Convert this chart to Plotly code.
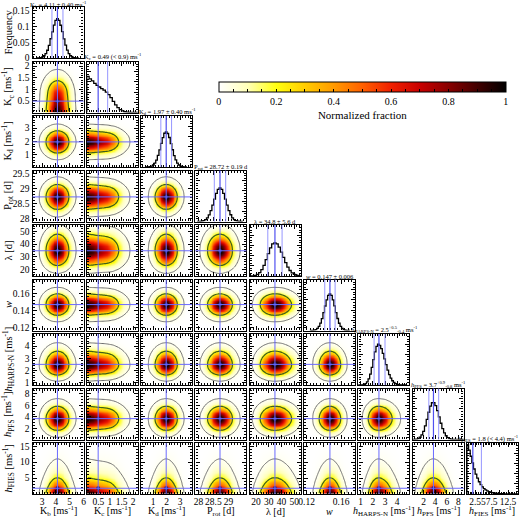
import numpy as np
import plotly.graph_objects as go

# ---------------- data ----------------
params = ["Kb", "Kc", "Kd", "Prot", "lam", "w", "hH", "hP", "hF"]
axis_labels = ["K<sub>b</sub> [ms<sup>-1</sup>]", "K<sub>c</sub> [ms<sup>-1</sup>]",
               "K<sub>d</sub> [ms<sup>-1</sup>]", "P<sub>rot</sub> [d]", "λ [d]", "<i>w</i>",
               "<i>h</i><sub>HARPS-N</sub> [ms<sup>-1</sup>]", "<i>h</i><sub>PFS</sub> [ms<sup>-1</sup>]",
               "<i>h</i><sub>FIES</sub> [ms<sup>-1</sup>]"]
diag_titles = ["K<sub>b</sub> = 4.11 ± 0.40 ms<sup>-1</sup>",
               "K<sub>c</sub> = 0.49 (< 0.9) ms<sup>-1</sup>",
               "K<sub>d</sub> = 1.97 ± 0.40 ms<sup>-1</sup>",
               "P<sub>rot</sub> = 28.72 ± 0.19 d",
               "λ = 34.8 ± 5.6 d",
               "<i>w</i> = 0.147 ± 0.006",
               "<i>h</i><sub>HARPS-N</sub> = 2.5<sup>+0.5</sup><sub>-0.4</sub> ms<sup>-1</sup>",
               "<i>h</i><sub>PFS</sub> = 3.7<sup>+0.9</sup><sub>-0.8</sub> ms<sup>-1</sup>",
               "<i>h</i><sub>FIES</sub> = 1.8 (< 4.4) ms<sup>-1</sup>"]

medians = [4.11, 0.49, 1.97, 28.72, 34.8, 0.147, 2.5, 3.7, 1.8]
hist_lines = [[3.71, 4.51], [0.9], [1.57, 2.37], [28.53, 28.91], [29.2, 40.4],
              [0.141, 0.153], [2.1, 3.0], [2.9, 4.6], [4.4]]

kb_x = [2.67, 2.79, 2.91, 3.03, 3.15, 3.27, 3.39, 3.51, 3.63, 3.75, 3.87, 3.99, 4.11,
        4.23, 4.35, 4.47, 4.59, 4.71, 4.83, 4.95, 5.07, 5.19, 5.31, 5.43, 5.55]
kb_h = [0.0002, 0.0005, 0.0014, 0.0033, 0.0071, 0.0138, 0.0246, 0.0404, 0.0612, 0.0829,
        0.1046, 0.1192, 0.1248, 0.1197, 0.1040, 0.0836, 0.0607, 0.0408, 0.0249, 0.0136,
        0.0072, 0.0031, 0.0014, 0.0006, 0.0002]

kc_x = [0.05, 0.15, 0.25, 0.35, 0.45, 0.55, 0.65, 0.75, 0.85, 0.95, 1.05, 1.15, 1.25,
        1.35, 1.45, 1.55, 1.65, 1.75, 1.85, 1.95, 2.05, 2.15]
kc_h = [0.71, 0.66, 0.62, 0.57, 0.53, 0.50, 0.47, 0.44, 0.40, 0.35, 0.29, 0.22, 0.15,
        0.095, 0.055, 0.030, 0.015, 0.007, 0.003, 0.0015, 0.0007, 0.0003]

kd_x = [0.53, 0.65, 0.77, 0.89, 1.01, 1.13, 1.25, 1.37, 1.49, 1.61, 1.73, 1.85, 1.97,
        2.09, 2.21, 2.33, 2.45, 2.57, 2.69, 2.81, 2.93, 3.05, 3.17, 3.29, 3.41]
kd_h = [0.001, 0.003, 0.008, 0.018, 0.039, 0.077, 0.136, 0.226, 0.334, 0.462, 0.577,
        0.662, 0.690, 0.657, 0.578, 0.458, 0.338, 0.222, 0.138, 0.075, 0.039, 0.018,
        0.007, 0.003, 0.001]

prot_x = [28.00, 28.06, 28.12, 28.18, 28.24, 28.30, 28.36, 28.42, 28.48, 28.54, 28.60,
          28.66, 28.72, 28.78, 28.84, 28.90, 28.96, 29.02, 29.08, 29.14, 29.20, 29.26,
          29.32, 29.38, 29.44]
prot_h = [0.001, 0.003, 0.007, 0.017, 0.037, 0.073, 0.131, 0.214, 0.322, 0.440, 0.551,
          0.631, 0.660, 0.628, 0.553, 0.437, 0.323, 0.213, 0.132, 0.072, 0.037, 0.017,
          0.007, 0.003, 0.001]

lam_x = [14.4, 16.1, 17.8, 19.5, 21.2, 22.9, 24.6, 26.3, 28.0, 29.7, 31.4, 33.1, 34.8,
         36.5, 38.2, 39.9, 41.6, 43.3, 45.0, 46.7, 48.4, 50.1, 51.8, 53.5, 55.2]
lam_h = [0.000, 0.001, 0.004, 0.012, 0.030, 0.066, 0.124, 0.210, 0.320, 0.440, 0.553,
         0.630, 0.650, 0.630, 0.565, 0.470, 0.365, 0.262, 0.175, 0.108, 0.062, 0.033,
         0.016, 0.007, 0.003]

w_x = [0.1254, 0.1272, 0.1290, 0.1308, 0.1326, 0.1344, 0.1362, 0.1380, 0.1398, 0.1416,
       0.1434, 0.1452, 0.1470, 0.1488, 0.1506, 0.1524, 0.1542, 0.1560, 0.1578, 0.1596,
       0.1614, 0.1632, 0.1650, 0.1668, 0.1686]
w_h = [0.001, 0.003, 0.008, 0.019, 0.040, 0.079, 0.143, 0.234, 0.351, 0.480, 0.601,
       0.688, 0.720, 0.690, 0.600, 0.482, 0.350, 0.235, 0.142, 0.079, 0.040, 0.019,
       0.008, 0.003, 0.001]

hh_x = [0.89, 1.02, 1.15, 1.28, 1.41, 1.54, 1.67, 1.80, 1.93, 2.06, 2.19, 2.32, 2.45,
        2.58, 2.71, 2.84, 2.97, 3.10, 3.23, 3.36, 3.49, 3.62, 3.75, 3.88, 4.01, 4.14,
        4.27, 4.40, 4.53, 4.66]
hh_h = [0.0004, 0.0013, 0.004, 0.011, 0.027, 0.060, 0.119, 0.214, 0.344, 0.497, 0.648,
        0.759, 0.800, 0.778, 0.715, 0.622, 0.512, 0.399, 0.293, 0.203, 0.134, 0.083,
        0.049, 0.027, 0.014, 0.007, 0.0034, 0.0015, 0.0006, 0.0003]

hp_x = [0.2, 0.5, 0.8, 1.1, 1.4, 1.7, 2.0, 2.3, 2.6, 2.9, 3.2, 3.5, 3.8, 4.1, 4.4, 4.7,
        5.0, 5.3, 5.6, 5.9, 6.2, 6.5, 6.8, 7.1, 7.4, 7.7, 8.0, 8.3, 8.6, 8.9]
hp_h = [0.001, 0.003, 0.008, 0.020, 0.044, 0.089, 0.161, 0.266, 0.396, 0.534, 0.653,
        0.721, 0.722, 0.666, 0.566, 0.443, 0.319, 0.212, 0.130, 0.074, 0.038, 0.018,
        0.008, 0.0033, 0.0012, 0.0005, 0.0002, 0.0001, 0.0, 0.0]

hf_x = [0.25, 0.75, 1.25, 1.75, 2.25, 2.75, 3.25, 3.75, 4.25, 4.75, 5.25, 5.75, 6.25,
        6.75, 7.25, 7.75, 8.25, 8.75, 9.25, 9.75, 10.25, 10.75, 11.25, 11.75, 12.25,
        12.75, 13.25, 13.75, 14.25, 14.75, 15.25]
hf_h = [0.97, 0.86, 0.74, 0.61, 0.49, 0.39, 0.31, 0.24, 0.185, 0.14, 0.105, 0.08, 0.06,
        0.045, 0.034, 0.026, 0.020, 0.015, 0.011, 0.008, 0.006, 0.0045, 0.0033, 0.0024,
        0.0017, 0.0012, 0.0008, 0.0005, 0.0003, 0.0002, 0.0001]

centers = [kb_x, kc_x, kd_x, prot_x, lam_x, w_x, hh_x, hp_x, hf_x]
heights = [kb_h, kc_h, kd_h, prot_h, lam_h, w_h, hh_h, hp_h, hf_h]

# contour levels (fraction of the normalized 2-D density)
contour_levels = [0.004, 0.12]

# axis ranges and ticks
x_ranges = [[2.3, 6.0], [0, 2.2], [0.1, 3.9], [27.9, 29.6], [15, 55], [0.117, 0.176],
            [0.8, 5.0], [0.1, 8.9], [0, 15.5]]
y_ranges = [[2.3, 6.0], [0, 2.2], [0.1, 3.9], [27.9, 29.6], [15, 55], [0.117, 0.176],
            [0.8, 5.0], [0.1, 8.9], [0, 16]]
x_tickvals = [[3, 4, 5, 6], [0.5, 1, 1.5, 2], [1, 2, 3], [28, 28.5, 29], [20, 30, 40, 50],
              [0.12, 0.14, 0.16], [1, 2, 3, 4], [2, 4, 6, 8], [2.5, 5, 7.5, 10, 12.5]]
x_ticktext = [["3", "4", "5", "6"], ["0.5", "1", "1.5", "2"], ["1", "2", "3"],
              ["28", "28.5", "29"], ["20", "30", "40", "50"], ["0.12", "", "0.16"],
              ["1", "2", "3", "4"], ["2", "4", "6", "8"], ["2.5", "5", "7.5", "", "12.5"]]
y_tickvals = [[3, 4, 5, 6], [0.5, 1, 1.5, 2], [1, 2, 3], [28, 28.5, 29, 29.5],
              [20, 30, 40, 50], [0.12, 0.14, 0.16], [1, 2, 3, 4], [2, 4, 6, 8], [5, 10, 15]]
minor_dt = [0.2, 0.1, 0.2, 0.1, 2, 0.004, 0.2, 0.5, 0.5]
minor_dt_y = [0.2, 0.1, 0.2, 0.1, 2, 0.004, 0.2, 0.5, 1]
freq_ticks = [0, 0.05, 0.1, 0.15]
freq_range = [0, 0.162]
diag_range = [0, 1.0]

# ---------------- layout geometry ----------------
W, H = 520, 519
col_left0, col_pitch = 32.5, 54.3
row_top0, row_pitch = 7.0, 54.5
psize = 51.0

FONT = "Liberation Serif"
BLUE = "#6a6aff"
GREEN = "#3f5f1a"
GRAY = "#6e6e6e"

colorscale = [[0.0, "#ffffff"], [0.1, "#ffffb8"], [0.2, "#ffff10"], [0.3, "#ffcc00"],
              [0.4, "#ff9a00"], [0.5, "#ff6000"], [0.6, "#f02000"], [0.7, "#c80000"],
              [0.8, "#880000"], [0.9, "#420000"], [1.0, "#000000"]]
COLOR_POWER = 0.7

fig = go.Figure()
layout = {}
shapes = []
annotations = []
n = 0

for i in range(9):
    for j in range(i + 1):
        n += 1
        xa = "xaxis" if n == 1 else f"xaxis{n}"
        ya = "yaxis" if n == 1 else f"yaxis{n}"
        xr = "x" if n == 1 else f"x{n}"
        yr = "y" if n == 1 else f"y{n}"
        L = col_left0 + col_pitch * j
        T = row_top0 + row_pitch * i
        xdom = [L / W, (L + psize) / W]
        ydom = [1 - (T + psize) / H, 1 - T / H]

        common = dict(showline=True, linecolor="black", linewidth=1.4, mirror="allticks",
                      ticks="inside", ticklen=4, tickwidth=1, tickcolor="black",
                      showgrid=False, zeroline=False, tickangle=0, automargin=False,
                      tickfont=dict(family=FONT, size=9.5, color="black"))

        xdict = dict(common, domain=xdom, anchor=yr, range=x_ranges[j],
                     tickmode="array", tickvals=x_tickvals[j], ticktext=x_ticktext[j],
                     minor=dict(ticks="inside", ticklen=2, dtick=minor_dt[j],
                                tick0=0, tickcolor="black"),
                     showticklabels=(i == 8))
        if i == 8:
            xdict["ticklabelstandoff"] = -2
            annotations.append(dict(text=axis_labels[j], xref="paper", yref="paper",
                                    x=(L + psize / 2) / W, y=1 - 511 / H,
                                    xanchor="center", yanchor="middle", showarrow=False,
                                    font=dict(family=FONT, size=10, color="black")))
        if j == 0:
            ytitle = "Frequency" if i == 0 else axis_labels[i]
            annotations.append(dict(text=ytitle, xref="paper", yref="paper",
                                    x=8 / W, y=1 - (T + psize / 2) / H, textangle=-90,
                                    xanchor="center", yanchor="middle", showarrow=False,
                                    font=dict(family=FONT, size=10.5, color="black")))
        if i == j:
            if i == 0:
                ydict = dict(common, domain=ydom, anchor=xr, range=freq_range,
                             tickmode="array", tickvals=freq_ticks,
                             minor=dict(ticks="inside", ticklen=2, dtick=0.01, tick0=0,
                                        tickcolor="black"))
            else:
                ydict = dict(common, domain=ydom, anchor=xr, range=diag_range,
                             dtick=0.2, showticklabels=False,
                             minor=dict(ticks="inside", ticklen=2, dtick=0.05, tick0=0,
                                        tickcolor="black"))
            cx = np.array(centers[i], dtype=float)
            hv = np.array(heights[i], dtype=float)
            step = cx[1] - cx[0]
            edges = np.concatenate([cx - step / 2, [cx[-1] + step / 2]])
            xs = np.concatenate([[edges[0]], edges[:-1], [edges[-1]]])
            ys = np.concatenate([[0], hv, [0]])
            fig.add_trace(go.Scatter(x=xs, y=ys, mode="lines", line_shape="hv",
                                     line=dict(color="black", width=1.3),
                                     xaxis=xr, yaxis=yr, showlegend=False,
                                     hoverinfo="skip"))
            shapes.append(dict(type="line", xref=xr, yref=f"{yr} domain",
                               x0=medians[i], x1=medians[i], y0=0, y1=1,
                               line=dict(color="#5050f0", width=1.2), layer="above"))
            for v in hist_lines[i]:
                shapes.append(dict(type="line", xref=xr, yref=f"{yr} domain",
                                   x0=v, x1=v, y0=0, y1=1,
                                   line=dict(color="#8a8aff", width=0.9), layer="above"))
            if i == 8:
                tx, xanc = (W - 1) / W, "right"
            else:
                tx, xanc = (L + psize / 2) / W, "center"
            ty = T + (2.5 if i == 0 else 1.0)
            annotations.append(dict(text=diag_titles[i], xref="paper", yref="paper",
                                    x=tx, y=1 - ty / H,
                                    xanchor=xanc, yanchor="bottom", showarrow=False,
                                    borderpad=0,
                                    font=dict(family=FONT, size=6.5, color="black")))
        else:
            ydict = dict(common, domain=ydom, anchor=xr, range=y_ranges[i],
                         tickmode="array", tickvals=y_tickvals[i],
                         minor=dict(ticks="inside", ticklen=2, dtick=minor_dt_y[i],
                                    tick0=0, tickcolor="black"),
                         showticklabels=(j == 0))
            fx = np.array(heights[j], dtype=float)
            fy = np.array(heights[i], dtype=float)
            Z = np.outer(fy, fx)
            Z = Z / Z.max()
            fig.add_trace(go.Heatmap(x=centers[j], y=centers[i], z=Z ** COLOR_POWER,
                                     coloraxis="coloraxis", zsmooth="best",
                                     xaxis=xr, yaxis=yr, hoverinfo="skip"))
            for lev, col, lw in [(contour_levels[0], GRAY, 1.0), (contour_levels[1], GREEN, 1.2)]:
                fig.add_trace(go.Contour(x=centers[j], y=centers[i], z=Z,
                                         autocontour=False,
                                         contours=dict(start=lev, end=lev, size=1,
                                                       coloring="none"),
                                         line=dict(color=col, width=lw, smoothing=1.3),
                                         showscale=False, xaxis=xr, yaxis=yr,
                                         hoverinfo="skip"))
            shapes.append(dict(type="line", xref=xr, yref=f"{yr} domain",
                               x0=medians[j], x1=medians[j], y0=0, y1=1,
                               line=dict(color=BLUE, width=1), layer="above"))
            shapes.append(dict(type="line", xref=f"{xr} domain", yref=yr,
                               x0=0, x1=1, y0=medians[i], y1=medians[i],
                               line=dict(color=BLUE, width=1), layer="above"))
            fig.add_trace(go.Scatter(x=[medians[j]], y=[medians[i]], mode="markers",
                                     marker=dict(size=4, color="#1c1c7a"),
                                     xaxis=xr, yaxis=yr, showlegend=False,
                                     hoverinfo="skip"))
        layout[xa] = xdict
        layout[ya] = ydict

cb_tickvals = [round(0.05 * k, 2) for k in range(21)]
cb_ticktext = [(f"{v:g}") if abs(v * 5 - round(v * 5)) < 1e-9 else " " for v in cb_tickvals]

fig.update_layout(
    width=W, height=H, margin=dict(l=0, r=0, t=0, b=0),
    paper_bgcolor="white", plot_bgcolor="white", showlegend=False,
    font=dict(family=FONT, size=10, color="black"),
    shapes=shapes, annotations=annotations,
    coloraxis=dict(colorscale=colorscale, cmin=0, cmax=1,
                   colorbar=dict(orientation="h", x=(219 + 505.7) / 2 / W, xanchor="center",
                                 y=1 - 81.7 / H, yanchor="top", len=286.7 / W,
                                 lenmode="fraction", thickness=10, thicknessmode="pixels",
                                 outlinecolor="black", outlinewidth=1,
                                 ticks="inside", ticklen=3, tickcolor="black",
                                 tickmode="array", tickvals=cb_tickvals, ticktext=cb_ticktext,
                                 tickfont=dict(family=FONT, size=10),
                                 title=dict(text="Normalized fraction", side="bottom",
                                            font=dict(family=FONT, size=11)),
                                 xpad=0, ypad=0)),
    **layout,
)

fig.write_html("out.html", config={"displayModeBar": False},
               post_script="document.body.style.margin='0px';document.body.style.overflow='hidden';")
